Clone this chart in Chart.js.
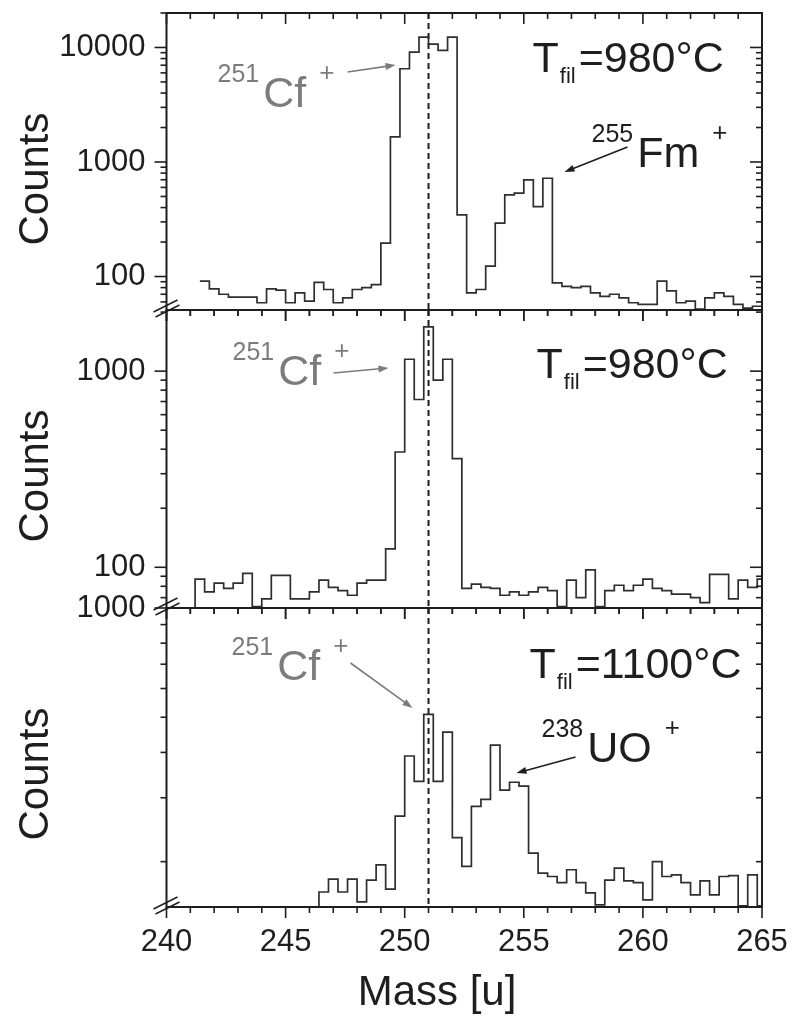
<!DOCTYPE html>
<html>
<head>
<meta charset="utf-8">
<script src="https://cdn.jsdelivr.net/npm/chart.js@4.4.1/dist/chart.umd.min.js"></script>
<style>
  html, body { margin: 0; padding: 0; background: #fff; }
  #wrap { position: relative; width: 793px; height: 1018px; }
  #wrap canvas { position: absolute; left: 0; top: 0; }
</style>
</head>
<body>
<div id="wrap">
  <canvas id="panel-top" width="793" height="1018"></canvas>
  <canvas id="panel-mid" width="793" height="1018"></canvas>
  <canvas id="panel-low" width="793" height="1018"></canvas>
</div>
<script>
// Mass axis (u)
const massRange = [240, 265];
const massTickLabels = [240, 245, 250, 255, 260, 265];
const cfMass = 251;
const binWidth = 0.4;

// Panel 1: T_fil = 980 °C (251Cf + 255Fm)
const topBinStart = 240.2;
const topCounts = [
  null, null, null, 91, 78, 70, 66, 66, 66, 59,
  78, 76, 59, 72, 61, 89, 77, 59, 65, 77,
  80, 85, 196, 1660, 6520, 9100, 12300, 10700, 9420, 12300,
  346, 72, 77, 123, 293, 516, 534, 697, 408, 721,
  88, 82, 80, 82, 72, 67, 70, 65, 59, 57,
  57, 91, 75, 59, 61, 52, 65, 72, 67, 57,
  53, 55
];
const topRange = [51, 20000];
const topTickLabels = [100, 1000, 10000];

// Panel 2: T_fil = 980 °C (251Cf)
const midBinStart = 240.0;
const midCounts = [
  null, null, 40, 87, 75, 83, 78, 83, 93, 63,
  69, 91, 91, 69, 69, 75, 86, 79, 76, 72,
  83, 86, 86, 124, 387, 1150, 717, 1680, 900, 1150,
  358, 78, 82, 79, 78, 72, 75, 72, 75, 79,
  76, 63, 86, 70, 97, 63, 76, 81, 76, 81,
  87, 78, 76, 73, 73, 70, 66, 92, 92, 69,
  86, 79, 87
];
const midRange = [62, 2050];
const midTickLabels = [100, 1000];

// Panel 3: T_fil = 1100 °C (251Cf + 238UO)
const lowBinStart = 240.0;
const lowCounts = [
  null, null, null, null, null, null, null, null, null, null,
  null, null, null, null, null, 100, 165, 179, 165, 179,
  155, 178, 196, 168, 267, 391, 333, 509, 333, 455,
  233, 194, 284, 297, 419, 315, 331, 323, 211, 186,
  182, 175, 190, 175, 164, 152, 178, 192, 177, 175,
  157, 200, 182, 184, 175, 162, 177, 162, 182, 183,
  151, 184, 151
];
const lowRange = [150, 1000];
const lowTickLabels = [1000];

// Layout
const PAGE_H = 1018;
const AREA_LEFT = 166.5;
const AREA_RIGHT_PAD = 31;
const FONT = "'Liberation Sans', Arial, Helvetica, sans-serif";
const INK = '#1e1e1e';
const GREY = '#7c7c7c';

Chart.defaults.font.family = FONT;
Chart.defaults.color = INK;

// Annotations (offsets in px from the plot area's top-left corner)
const panelNotes = {
  'panel-top': {
    temp: { x: 366, y: 59, value: '980°C' },
    isotopes: [
      { x: 51, y: 94, mass: '251', symbol: 'Cf', color: GREY },
      { x: 425, y: 154, mass: '255', symbol: 'Fm', color: INK }
    ],
    arrows: [
      { from: [181, 59], to: [229, 52], color: GREY },
      { from: [461, 134], to: [398, 159], color: INK }
    ]
  },
  'panel-mid': {
    temp: { x: 370, y: 68, value: '980°C' },
    isotopes: [
      { x: 66, y: 75, mass: '251', symbol: 'Cf', color: GREY }
    ],
    arrows: [
      { from: [167, 63], to: [222, 58], color: GREY }
    ]
  },
  'panel-low': {
    temp: { x: 363, y: 70, value: '1100°C' },
    isotopes: [
      { x: 65, y: 72, mass: '251', symbol: 'Cf', color: GREY },
      { x: 375, y: 154, mass: '238', symbol: 'UO', color: INK }
    ],
    arrows: [
      { from: [184, 55], to: [246, 100], color: GREY },
      { from: [409, 149], to: [350, 165], color: INK }
    ],
    massTitle: true
  }
};

function histogram(start, counts) {
  const pts = counts.map((c, i) => ({ x: +(start + i * binWidth).toFixed(2), y: c }));
  pts.push({ x: +(start + counts.length * binWidth).toFixed(2), y: counts[counts.length - 1] });
  return pts;
}

function logTicks(min, max) {
  const out = [];
  for (let e = Math.floor(Math.log10(min)); e <= Math.ceil(Math.log10(max)); e++) {
    for (let m = 1; m <= 9; m++) {
      const v = m * Math.pow(10, e);
      if (v >= min && v <= max) out.push(v);
    }
  }
  return out;
}

function line(ctx, x1, y1, x2, y2) {
  ctx.beginPath();
  ctx.moveTo(x1, y1);
  ctx.lineTo(x2, y2);
  ctx.stroke();
}

function drawArrow(ctx, a, arr) {
  const [x1, y1] = [a.left + arr.from[0], a.top + arr.from[1]];
  const [x2, y2] = [a.left + arr.to[0], a.top + arr.to[1]];
  const ang = Math.atan2(y2 - y1, x2 - x1);
  ctx.strokeStyle = arr.color;
  ctx.fillStyle = arr.color;
  ctx.lineWidth = 1.6;
  line(ctx, x1, y1, x2 - 6 * Math.cos(ang), y2 - 6 * Math.sin(ang));
  ctx.beginPath();
  ctx.moveTo(x2, y2);
  ctx.lineTo(x2 - 10 * Math.cos(ang) + 3.5 * Math.sin(ang), y2 - 10 * Math.sin(ang) - 3.5 * Math.cos(ang));
  ctx.lineTo(x2 - 10 * Math.cos(ang) - 3.5 * Math.sin(ang), y2 - 10 * Math.sin(ang) + 3.5 * Math.cos(ang));
  ctx.closePath();
  ctx.fill();
}

function drawIsotope(ctx, a, n) {
  const x0 = a.left + n.x;
  const base = a.top + n.y;
  ctx.fillStyle = n.color;
  ctx.textAlign = 'left';
  ctx.textBaseline = 'alphabetic';
  ctx.font = `25px ${FONT}`;
  ctx.fillText(n.mass, x0, base - 25);
  const w1 = ctx.measureText(n.mass).width + 4;
  ctx.font = `43px ${FONT}`;
  ctx.fillText(n.symbol, x0 + w1, base);
  const w2 = ctx.measureText(n.symbol).width + 13;
  ctx.font = `26px ${FONT}`;
  ctx.fillText('+', x0 + w1 + w2, base - 26);
}

function drawTemp(ctx, a, t) {
  let x = a.left + t.x;
  const base = a.top + t.y;
  ctx.fillStyle = INK;
  ctx.textAlign = 'left';
  ctx.textBaseline = 'alphabetic';
  ctx.font = `43px ${FONT}`;
  ctx.fillText('T', x, base);
  x += ctx.measureText('T').width + 1;
  ctx.font = `22px ${FONT}`;
  ctx.fillText('fil', x, base + 11);
  x += ctx.measureText('fil').width + 3;
  ctx.font = `43px ${FONT}`;
  ctx.fillText('=' + t.value, x, base);
}

const spectrumPlugin = {
  id: 'spectrum',
  beforeDatasetsDraw(chart) {
    const { ctx, chartArea: a, scales: { x } } = chart;
    const px = x.getPixelForValue(cfMass);
    ctx.save();
    ctx.strokeStyle = INK;
    ctx.lineWidth = 2;
    ctx.setLineDash([6, 4]);
    line(ctx, px, a.top, px, a.bottom);
    ctx.restore();
  },
  afterDraw(chart) {
    const { ctx, chartArea: a, scales: { x, y } } = chart;
    const notes = panelNotes[chart.canvas.id];
    ctx.save();

    // Rahmen
    ctx.strokeStyle = INK;
    ctx.lineWidth = 2;
    ctx.strokeRect(a.left, a.top, a.right - a.left, a.bottom - a.top);

    // x ticks: inward at top, outward at bottom
    ctx.lineWidth = 1.6;
    x.ticks.forEach(t => {
      const px = x.getPixelForValue(t.value);
      const len = t.value % 5 === 0 ? 11 : 6;
      line(ctx, px, a.top, px, a.top + len);
      line(ctx, px, a.bottom, px, a.bottom + len);
    });

    // y ticks: outward at left, inward at right
    y.ticks.forEach(t => {
      const py = y.getPixelForValue(t.value);
      if (py < a.top + 1 && t.value !== y.max) return;
      const mant = t.value / Math.pow(10, Math.floor(Math.log10(t.value) + 1e-9));
      const len = Math.abs(mant - 1) < 1e-6 ? 12 : 6;
      line(ctx, a.left - len, py, a.left, py);
      line(ctx, a.right - len, py, a.right, py);
    });

    // axis break marks
    ctx.lineWidth = 1.5;
    line(ctx, a.left - 13, a.bottom + 2, a.left + 11, a.bottom - 10);
    line(ctx, a.left - 11, a.bottom + 7, a.left + 13, a.bottom - 5);

    // Counts title
    ctx.fillStyle = INK;
    ctx.font = `42px ${FONT}`;
    ctx.textAlign = 'center';
    ctx.textBaseline = 'middle';
    ctx.save();
    ctx.translate(36, a.top + 166);
    ctx.rotate(-Math.PI / 2);
    ctx.fillText('Counts', 0, 0);
    ctx.restore();

    if (notes.massTitle) {
      ctx.fillText('Mass [u]', 437, 993);
    }

    drawTemp(ctx, a, notes.temp);
    notes.isotopes.forEach(n => drawIsotope(ctx, a, n));
    notes.arrows.forEach(arr => drawArrow(ctx, a, arr));
    ctx.restore();
  }
};

function makePanel(id, p) {
  return new Chart(document.getElementById(id), {
    type: 'line',
    data: {
      datasets: [{
        data: histogram(p.binStart, p.counts),
        stepped: true,
        borderColor: '#2e2e2e',
        borderWidth: 1.7,
        pointRadius: 0,
        fill: false
      }]
    },
    options: {
      responsive: false,
      animation: false,
      devicePixelRatio: 1,
      layout: { padding: { top: p.areaTop, right: AREA_RIGHT_PAD, bottom: 0, left: 0 } },
      plugins: { legend: { display: false }, tooltip: { enabled: false } },
      scales: {
        x: {
          type: 'linear',
          min: massRange[0],
          max: massRange[1],
          grid: { display: false, drawTicks: false },
          border: { display: false },
          ticks: {
            display: p.showMass,
            autoSkip: false,
            maxRotation: 0,
            padding: 17,
            color: INK,
            font: { size: 31 },
            callback: v => massTickLabels.includes(v) ? String(v) : ''
          },
          afterBuildTicks: ax => {
            const ticks = [];
            for (let m = massRange[0]; m <= massRange[1]; m++) ticks.push({ value: m });
            ax.ticks = ticks;
          },
          afterFit: ax => {
            ax.height = PAGE_H - p.areaBottom;
            ax.paddingLeft = 0;
            ax.paddingRight = 0;
          }
        },
        y: {
          type: 'logarithmic',
          min: p.range[0],
          max: p.range[1],
          grid: { display: false, drawTicks: false },
          border: { display: false },
          ticks: {
            autoSkip: false,
            padding: 21,
            color: INK,
            font: { size: 31 },
            callback: v => p.labels.includes(v) ? String(v) : ''
          },
          afterBuildTicks: ax => {
            ax.ticks = logTicks(p.range[0], p.range[1]).map(v => ({ value: v }));
          },
          afterFit: ax => {
            ax.width = AREA_LEFT;
            ax.paddingTop = 0;
            ax.paddingBottom = 0;
          }
        }
      }
    },
    plugins: [spectrumPlugin]
  });
}

makePanel('panel-top', {
  binStart: topBinStart, counts: topCounts, range: topRange, labels: topTickLabels,
  areaTop: 13, areaBottom: 310, showMass: false
});
makePanel('panel-mid', {
  binStart: midBinStart, counts: midCounts, range: midRange, labels: midTickLabels,
  areaTop: 310, areaBottom: 608, showMass: false
});
makePanel('panel-low', {
  binStart: lowBinStart, counts: lowCounts, range: lowRange, labels: lowTickLabels,
  areaTop: 608, areaBottom: 907, showMass: true
});
</script>
</body>
</html>
